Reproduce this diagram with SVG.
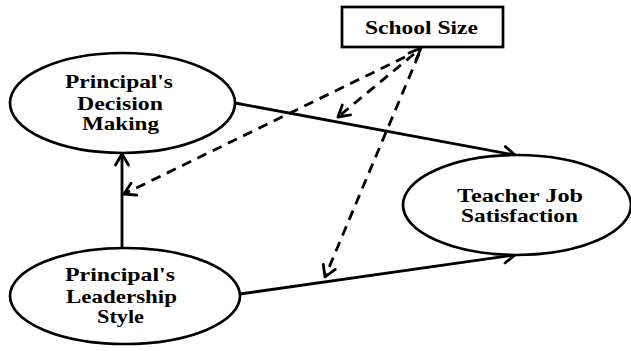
<svg xmlns="http://www.w3.org/2000/svg" width="631" height="351" viewBox="0 0 631 351">
<style>
.node{fill:#fff;stroke:#000;stroke-width:2.7}
.t{font-family:"Liberation Serif","Times New Roman",serif;font-weight:bold;font-size:19px;fill:#000}
.solid{fill:none;stroke:#000;stroke-width:2.8}
.dash{fill:none;stroke:#000;stroke-width:2.8;stroke-dasharray:10 7}
.head{fill:none;stroke:#000;stroke-width:2.8;stroke-linecap:round;stroke-linejoin:round}
</style>
<defs>
<marker id="arr" markerUnits="userSpaceOnUse" markerWidth="20" markerHeight="20" refX="14" refY="10" orient="auto">
<path d="M3,3.5 L14,10 L3,16.5" fill="none" stroke="#000" stroke-width="2.8" stroke-linecap="round" stroke-linejoin="round"/>
</marker>
</defs>
<rect width="631" height="351" fill="#fff"/>
<g id="connectors">
<line class="solid" x1="235" y1="103" x2="515" y2="155" marker-end="url(#arr)"/>
<line class="solid" x1="240" y1="294" x2="515" y2="255" marker-end="url(#arr)"/>
<line class="solid" x1="122" y1="248" x2="122" y2="154" marker-end="url(#arr)"/>
<line class="dash" x1="405" y1="57" x2="124" y2="194" marker-end="url(#arr)"/>
<line class="dash" x1="414" y1="54" x2="338" y2="117" marker-end="url(#arr)"/>
<line class="dash" x1="419" y1="54" x2="325" y2="277" marker-end="url(#arr)"/>
<path class="head" d="M409,53 L421,48 L416,60"/>
</g>
<g id="school-size">
<rect class="node" x="342" y="7" width="161" height="40"/>
<text class="t" x="365" y="34" textLength="113" lengthAdjust="spacingAndGlyphs">School Size</text>
</g>
<g id="decision-making">
<ellipse class="node" cx="122.5" cy="103" rx="112.5" ry="50"/>
<text class="t" x="65" y="88" textLength="108" lengthAdjust="spacingAndGlyphs">Principal's</text>
<text class="t" x="77" y="110" textLength="86" lengthAdjust="spacingAndGlyphs">Decision</text>
<text class="t" x="82" y="130" textLength="77" lengthAdjust="spacingAndGlyphs">Making</text>
</g>
<g id="leadership-style">
<ellipse class="node" cx="125" cy="296" rx="115" ry="48"/>
<text class="t" x="65" y="281" textLength="110" lengthAdjust="spacingAndGlyphs">Principal's</text>
<text class="t" x="66" y="303" textLength="111" lengthAdjust="spacingAndGlyphs">Leadership</text>
<text class="t" x="97" y="323" textLength="47" lengthAdjust="spacingAndGlyphs">Style</text>
</g>
<g id="teacher-job-satisfaction">
<ellipse class="node" cx="517" cy="205" rx="114" ry="50"/>
<text class="t" x="457" y="202" textLength="126" lengthAdjust="spacingAndGlyphs">Teacher Job</text>
<text class="t" x="461" y="222" textLength="117" lengthAdjust="spacingAndGlyphs">Satisfaction</text>
</g>
</svg>
